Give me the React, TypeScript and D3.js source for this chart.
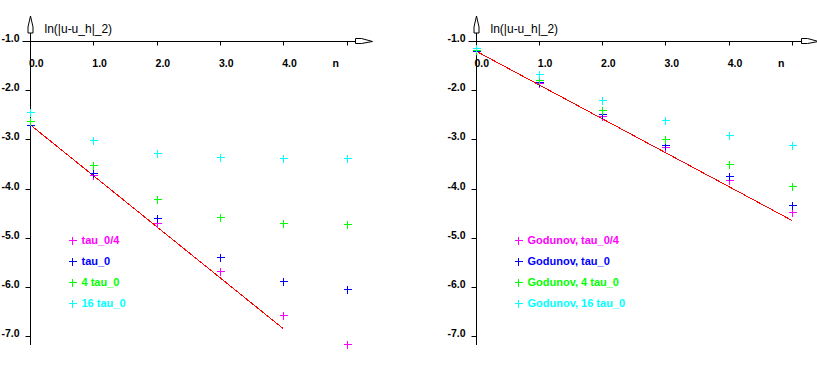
import React from 'react'
import * as d3 from 'd3'

// time step index
const steps = [0, 1, 2, 3, 4, 5]
const yTicks = [-1, -2, -3, -4, -5, -6, -7]
const xTicks = [0, 1, 2, 3, 4, 5]
const xTickLabels = ['0.0', '1.0', '2.0', '3.0', '4.0', '']
const colors = ['#ff00ff', '#0000ff', '#00ff00', '#00ffff']

// left panel
const leftNames = ['tau_0/4', 'tau_0', '4 tau_0', '16 tau_0']
const leftQuarter = [-2.7, -3.72, -4.71, -5.68, -6.58, -7.16]
const leftTau = [-2.71, -3.68, -4.6, -5.4, -5.88, -6.05]
const leftFour = [-2.63, -3.52, -4.22, -4.58, -4.71, -4.73]
const leftSixteen = [-2.44, -3.01, -3.28, -3.36, -3.38, -3.38]
const leftRefN = [0, 4]
const leftRefV = [-2.7, -6.85]

// right panel (Godunov)
const rightNames = ['Godunov, tau_0/4', 'Godunov, tau_0', 'Godunov, 4 tau_0', 'Godunov, 16 tau_0']
const rightQuarter = [-1.21, -1.86, -2.53, -3.16, -3.83, -4.48]
const rightTau = [-1.2, -1.84, -2.49, -3.11, -3.74, -4.33]
const rightFour = [-1.18, -1.79, -2.4, -2.99, -3.51, -3.95]
const rightSixteen = [-1.14, -1.67, -2.19, -2.61, -2.91, -3.11]
const rightRefN = [0, 5]
const rightRefV = [-1.2, -4.65]

const font = '"Liberation Sans", Arial, Helvetica, sans-serif'

function Panel({ x0, names, series, refN, refV }: any) {
  const x = d3.scaleLinear().domain([0, 5]).range([x0, x0 + 316.5])
  const y = d3.scaleLinear().domain([-1, -7]).range([41, 336])
  const line = d3.line<number>()
    .x((d, i) => x(refN[i]))
    .y(d => y(d))
  const ax = Math.round(x(0)) + 0.5
  const ay = Math.round(y(-1)) + 0.5
  const legendY = [239.5, 261, 282, 303]

  return (
    <g>
      {/* axes */}
      <line x1={ax - 8} x2={ax + 325} y1={ay} y2={ay} stroke="#000" />
      <line x1={ax} x2={ax} y1={33} y2={345} stroke="#000" />
      <polygon
        points={`${ax + 325},${ay - 3} ${ax + 331},${ay - 3} ${ax + 342},${ay} ${ax + 331},${ay + 2} ${ax + 325},${ay + 2}`}
        fill="#fff" stroke="#000" />
      <polygon
        points={`${ax - 2.5},33 ${ax - 2.5},27 ${ax},16 ${ax + 2.5},27 ${ax + 2.5},33`}
        fill="#fff" stroke="#000" />
      {xTicks.map((t, i) => (
        <g key={'x' + t}>
          <line x1={Math.round(x(t)) + 0.5} x2={Math.round(x(t)) + 0.5} y1={ay} y2={ay + 4} stroke="#000" />
          <text x={x(t) - 1} y={67} fontFamily={font} fontWeight="bold" fontSize={10.5}>{xTickLabels[i]}</text>
        </g>
      ))}
      <text x={x(4.78)} y={67} fontFamily={font} fontWeight="bold" fontSize={10.5}>n</text>
      {yTicks.map(t => (
        <g key={'y' + t}>
          <line x1={ax - 5} x2={ax} y1={Math.round(y(t)) + 0.5} y2={Math.round(y(t)) + 0.5} stroke="#000" />
          <text x={ax - 11} y={y(t) + 1} textAnchor="end" fontFamily={font} fontWeight="bold" fontSize={10.5}>
            {d3.format('.1f')(t).replace('−', '-')}
          </text>
        </g>
      ))}
      <text x={ax + 14} y={33} fontFamily={font} fontSize={12}>ln(|u-u_h|_2)</text>

      {/* reference slope */}
      <path d={line(refV) || ''} fill="none" stroke="#ff0000" strokeWidth={1} shapeRendering="crispEdges" />

      {/* data */}
      {series.map((vals: number[], si: number) => (
        <g key={'s' + si} stroke={colors[si]} strokeWidth={1.3} shapeRendering="crispEdges">
          {vals.map((v, i) => {
            const px = Math.round(x(steps[i])) + 0.5
            const py = Math.round(y(v)) + 0.5
            return (
              <g key={i}>
                <line x1={px - 4} x2={px + 4} y1={py} y2={py} />
                <line x1={px} x2={px} y1={py - 4} y2={py + 4} />
              </g>
            )
          })}
        </g>
      ))}

      {/* legend */}
      {names.map((nm: string, i: number) => {
        const lx = ax + 42
        const ly = Math.round(legendY[i]) + 0.5
        return (
          <g key={'l' + i}>
            <g stroke={colors[i]} strokeWidth={1.2} shapeRendering="crispEdges">
              <line x1={lx - 4} x2={lx + 4} y1={ly} y2={ly} />
              <line x1={lx} x2={lx} y1={ly - 4} y2={ly + 4} />
            </g>
            <text x={ax + 51} y={legendY[i] + 4} fill={colors[i]} fontFamily={font} fontWeight="bold" fontSize={11}>{nm}</text>
          </g>
        )
      })}
    </g>
  )
}

export default function App() {
  return (
    <svg width={817} height={388} style={{ position: 'absolute', left: 0, top: 0, background: '#fff' }}>
      <rect width={817} height={388} fill="#fff" />
      <Panel x0={30} names={leftNames}
        series={[leftQuarter, leftTau, leftFour, leftSixteen]} refN={leftRefN} refV={leftRefV} />
      <Panel x0={475.5} names={rightNames}
        series={[rightQuarter, rightTau, rightFour, rightSixteen]} refN={rightRefN} refV={rightRefV} />
    </svg>
  )
}
